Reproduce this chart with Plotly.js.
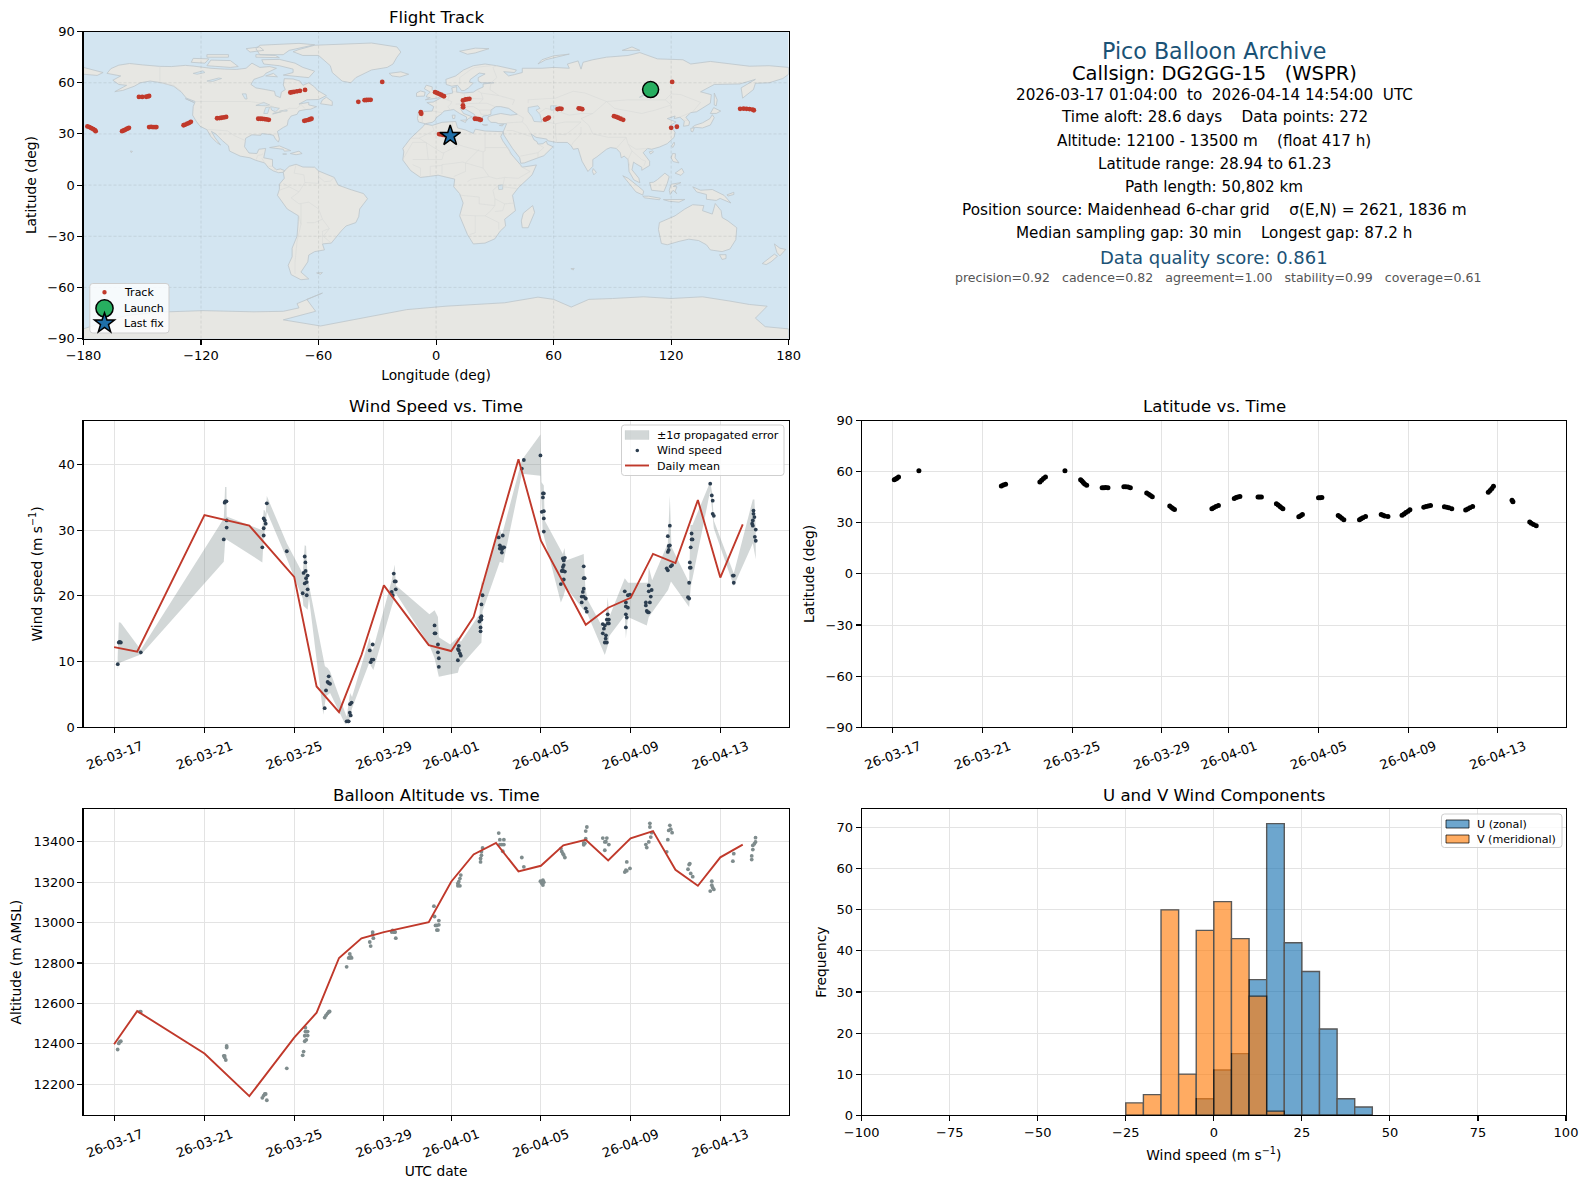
<!DOCTYPE html>
<html><head><meta charset="utf-8">
<script src="https://cdn.plot.ly/plotly-3.0.1.min.js"></script>
<style>html,body{margin:0;padding:0;background:#fff}</style>
</head><body><div id="chart" style="width:1590px;height:1189px"></div>
<script>
// ---------- map outlines (lon,lat pairs) ----------
const landNorthAmerica=[-168,65.5,-166,68.3,-162,70.3,-156.5,71.3,-150,70.5,-141,69.6,-135,69.5,-128,70.2,-124,69.8,-115,68.5,-108,68,-102,67.8,-97,68.5,-94,71.5,-90,69,-85,69.5,-81.5,68.5,-87,65.5,-88,64,-93,62,-94.5,59,-92,57,-87,56,-82.5,55,-82,52.5,-79.5,51.3,-79,54.5,-77,56,-78,58.7,-77.5,62.4,-73,62.2,-69.5,61,-68,58.5,-65,60,-62,57.5,-60.5,55.5,-56,52.5,-60,50.2,-66,50,-70,47.5,-65,48.5,-65,47,-61,46,-64,44.5,-66.5,44.3,-70,43.5,-71,41.5,-74,40.5,-75.5,38,-76,35,-78,33.8,-81,31.5,-80,27,-80.5,25.2,-82,27,-83,29.2,-85,29.7,-89,30.2,-89.5,29.2,-94,29.5,-97.2,27.5,-97.8,22.5,-95.5,18.8,-91.5,18.5,-90.5,21,-87,21.5,-88,16,-83.5,15,-83.5,11,-81.5,9,-79.5,9.5,-77.3,8.5,-78,7.5,-80.5,7.3,-83,8.3,-85.5,10,-87.5,13,-92,14.5,-95,16,-100,17,-105.5,20,-106,23,-109,26,-112.5,30,-114.7,31.5,-113,28,-110,23.5,-112,25,-115,28.5,-117,32.5,-120.5,34.5,-122.5,37.5,-124.3,41,-124,46,-123,49,-127.5,51,-130,54.5,-134,58,-140,60,-146,61,-151,60,-154,58,-160,55.5,-164,54.8,-158,58.5,-162,59,-165,61.5,-161,64];
const landGreenland=[-73,78.2,-68,76,-60,76,-54,70,-53,66,-48,61,-43.5,60,-41,63,-33,67.5,-25,69,-22,71,-20,75,-18,78,-20,81,-33,83.3,-50,82.5,-62,82,-70,79.5];
const landBaffin=[-80,73.7,-72,71.5,-68,69,-62,66.8,-65,63,-71,63.5,-78,64.5,-73,66,-73,68,-80,70,-88,71,-89,73.5];
const landVictoria=[-117,70,-105,69,-101,69.5,-105,73,-115,73.3];
const landEllesmere=[-90,76.5,-78,76.5,-75,79,-62,82.3,-70,83.1,-90,82,-92,80];
const landBanks=[-125,72,-118,71.5,-116,74,-124,74.3];
const landDevon=[-92,75,-80,74.7,-82,76,-92,76.5];
const landMelville=[-117,75,-106,75,-106,76.5,-117,76.5];
const landAxel=[-95,78,-88,79,-90,81,-97,80];
const landSouthampton=[-87,64,-81,63.5,-83,65.5];
const landNewfoundland=[-59,47.7,-53,46.7,-53,49,-56,51.5,-58,50];
const landVancouver=[-128,50.7,-123.5,48.4,-125,48.8];
const landCuba=[-85,22,-80,23,-74.2,20.2,-77.5,19.9,-78,21];
const landHispaniola=[-74.4,18.5,-70,19.9,-68.4,18.5,-71.5,17.8];
const landJamaica=[-78.3,18.2,-76.3,18.2,-76.8,17.8];
const landIceland=[-24,65.5,-18,66.4,-14,65,-18.5,63.4,-22.5,64];
const landIreland=[-10,52,-6,52.2,-5.6,54.5,-8,55.2,-10,54];
const landBritain=[-5.5,50,1.5,51.2,1.7,52.8,-1,54.5,-2,56,-2,57.6,-5,58.6,-6,56.5,-3,54.5,-4.5,53,-5,51.7,-3,51.3];
const landSvalbard=[12,78.5,20,80.3,27,80,20,77.5,16,76.7];
const landNovaya=[52,71,56,73.5,68,76.8,60,75.8,54,73.5];
const landSevernaya=[95,79,104,79,100,81];
const landSakhalin=[142,54,143.5,50,143,46.5,142,47,142,50];
const landHonshu=[130.9,34,136,33.5,140,35.2,142,39.5,141,41.3,139.8,39,136,36.5,132,35];
const landHokkaido=[140,42,141.7,45.4,145.3,43.4,143,42];
const landKyushu=[130,33.3,131.8,33.5,131,31.2,130.2,31.5];
const landTaiwan=[120.2,23,121.5,25.2,121.8,24,120.8,22];
const landHainan=[108.8,19.5,110.5,20,111,19.5,109.5,18.2];
const landSriLanka=[79.8,8,80.2,9.7,81.8,7.5,80.5,6];
const landLuzon=[120,16,120.7,18.5,122.2,18.4,122,16,124,13,121,13.8];
const landMindanao=[122,7,125.4,9.8,126.5,7.5,125,5.7];
const landBorneo=[109,1.5,111,1.7,113,3.2,116.8,7,119,5,118,1,116.3,-3.8,114,-3.5,110,-3];
const landSumatra=[95.3,5.5,98,4,103.5,-1,106,-3.5,105.5,-5.8,102,-4,98.5,1];
const landJava=[105.5,-6.5,108.5,-6.5,114.5,-7.7,114,-8.6,106.5,-7.5];
const landSulawesi=[119.5,-5.5,119,-3,120,0.5,125,1.5,121,-0.8,123,-1,122,-3.5,122.8,-5,121,-3];
const landTimor=[116,-8.5,119,-8.4,125,-8.5,127,-8.4,124,-10,119,-9.5];
const landNewGuinea=[131,-1,135,-3,141,-2.6,147,-6,150.5,-10.5,145,-7.8,143,-9,138,-8.3,138,-5.5,133,-4];
const landNewBritain=[148.5,-5.7,152,-4.2,152,-5.5,149,-6.4];
const landAustralia=[114,-22,113.5,-26,115,-34.2,118,-35,124,-33,129,-31.7,134,-32.5,138,-35,140,-38,146,-39,150,-37.5,153,-32,153.5,-25,149,-21,146,-19,145.5,-15,142.5,-10.8,141,-17,136,-15,136.7,-12,131,-11.5,127,-14,122,-18,117,-20.5];
const landTasmania=[144.7,-40.8,148,-40.8,148,-43,146,-43.6];
const landNZNorth=[172.7,-34.5,175.5,-37,178.5,-37.7,175.5,-41.5,174,-39.5];
const landNZSouth=[172.7,-40.5,174.3,-41.7,171,-45,168.5,-46.6,166.5,-46,170,-43];
const landMadagascar=[49.3,-12,50.3,-16,47,-25,44,-25,43.5,-21,44.5,-16.5];
const landAntarctica=[-180,-84.3,-165,-78.5,-158,-76.5,-142,-74.5,-119,-73.6,-93,-74.3,-78,-74,-70,-72,-71,-69.5,-58,-63.3,-66,-67,-61.5,-74,-78,-79,-59,-82.6,-45,-79.5,-30,-76,-15,-73,5,-71,25,-69.5,35,-69,52,-65.7,60,-67,69,-71.5,78,-67,90,-66.5,106,-65.5,120,-66.5,136,-65.5,150,-68,160,-70,169,-71,165,-76,163,-78,168,-83,180,-84.3,180,-90,-180,-90];
const landEurasia=[-5.5,36,-9,37,-9.5,39,-9,43,-2,43.4,-1.2,46,-4.7,48.4,-1.5,48.7,1.5,50.5,4,52,5.5,53.3,8.5,54,8,57,10.5,57.7,10.5,54.5,14,54,19,54.5,21,56,24,57.5,24,59.3,29.5,60,23,60,21.5,61,21.5,63,25,65.2,22,65.7,17.5,62,17,60.5,19,59.8,16.5,57,14.5,55.5,13,55.4,11,58.5,8,58,5.2,59,5,62,10,64,14,67.5,19,70,25,71,31,70,41,67.5,40,66,34.5,66.5,37,64,40,64.8,44,66,44,68.5,54,68.5,60,69,68,68.5,67,71,72.5,72.8,74,68,75,72,80,73.5,87,75,98,76,104,77.7,113,74,126,73.5,130,71,140,72.5,160,69.7,170,70,180,69,180,65,177,62.5,170,60,163,59.7,162,56,156.5,51,155.7,57,163,62,155,59.3,142,59,135,54.7,140.5,53,140,48,133,43,130,42.5,127.5,39.8,129.4,37,129,35,126.3,34.5,126.7,37.5,124.5,39.8,121.5,39,122,40.5,118,39,122.5,37,119.5,35,122,31,121.5,28,118,24.3,114,22.3,110,21,108,21.5,105.7,19,109,14,109,11.5,105,8.7,105,10.5,102,12.5,100.8,13.5,100,9,103.5,4,104,1.4,101,3,98.5,8,98,15,96,17,94.5,16,94,19,92,21.5,89,22,87,21,82,16.5,80,15,80,11,77.5,8,74.5,14,72.8,20,72.5,21.5,70,21,69,23,67,25,61.5,25,57,26,56.5,27,51,28,48.5,30,50,26.5,51.5,25.5,52,24,54.5,24.3,56.3,25.8,56.8,24,59.7,22.5,55,17.2,52,16,45,13,43.2,12.8,42.7,16,39,21.5,35,28,34.5,29.5,34.3,31.3,35,33,36,36,32,36,30.5,36.7,28,36.8,26.5,38.5,26.5,40,29,41,33,42,38,41,41.5,41.5,37,45,33,46,30.5,46,28,44,28,41.5,26,40.8,24,40.5,23,38,22.5,36.5,20.5,39,19.5,41.5,15,44.5,13.5,45.7,12.3,45,14,42,18.5,40,16.5,39,15.7,38,15.5,40,12,42,9,44.3,4,43.4,3,42,0,39.5,-0.5,38,-2,36.8];
const landChukotka=[-180,69,-175,67.5,-170,66,-173,64.3,-180,65];
const landAfrica=[-5.8,35.8,-2,35,3,36.8,10,37.3,11,33.5,15,32.3,19,30.3,20,32.8,25,31.7,32,31.2,34.3,31.3,33,28.5,34,26,37,21,38.5,18,43,12,44,10.5,51.2,11.8,49,6,42,-1.5,39,-6,40.5,-15,35,-20,35.5,-24,32.7,-27,30,-31.5,25,-34,19,-34.5,16,-29,12,-18,13.8,-10.5,12,-5,9,-1,9.5,3.5,5.5,4.5,1,5.8,-4,5,-8,4.5,-13,8.5,-17,14.7,-16.5,19.5,-17,21.5,-13,27.5,-9.5,31,-6.5,34.5];
const landSouthAmerica=[-77.3,8.5,-75,11,-71.5,12.2,-68,10.6,-62,10.5,-60,8.3,-52,4.5,-50,0,-44,-2.5,-37,-5,-35,-8,-39,-14,-39.5,-18.5,-41,-22,-46,-24,-48.5,-27,-53.5,-34,-58,-34.5,-57,-38,-62,-39,-65,-41,-65.5,-45,-69,-51,-65,-55,-69,-55.5,-74,-52.5,-75.5,-47,-73.5,-42,-73.5,-37,-71,-30,-70.5,-23,-70.3,-18,-76,-14,-81,-6,-80,-2.5,-80,0.5,-77.5,4,-78,7.5];
const landFalklands=[-61,-51.5,-58,-51.3,-59,-52.3];
const landKerguelen=[68.8,-49,70.5,-48.8,70,-49.8];
const landSicily=[12.5,38,15.5,38.2,15,36.7];
const landSardinia=[8.2,41,9.7,41,9.5,39.1,8.5,39];
const landCrete=[23.6,35.5,26.3,35.3,24.8,34.9];
const landCyprus=[32.3,35,34.5,35.6,33.8,34.7];
const landHawaii=[-156,20,-155,19.8,-155.6,19];
const lakeCaspian=[47,45.5,52,46.5,53,45,51,44,53,41.5,54,37,50,37.3,49,40,47,43];
const lakeSuperior=[-92,46.7,-88,48.5,-85,47,-87,46.5];
const lakeMichigan=[-88,42,-86,42,-85,45.8,-87,45.5];
const lakeHuron=[-84.5,46,-80,45,-82,43,-84,44];
const lakeErie=[-83.5,41.6,-79,42.6,-79,43,-83,42.2];
const lakeOntario=[-80,43.3,-76,43.4,-76.3,44.2,-79.5,43.8];
const lakeWinnipeg=[-99,53.5,-97,53.5,-96.5,50.5,-97.5,50.5];
const lakeSlave=[-117,61,-111,62.8,-109.5,62.5,-114,60.8];
const lakeBear=[-124,65.5,-119,67,-118,66,-122,65];
const lakeVictoria=[31.7,-0.2,34,0.2,34,-2.4,32,-2.6];
const lakeBaikal=[103.8,51.5,105,51.8,110,55.8,109,55.6];
const lakeAral=[58.5,46.5,61.5,46.5,60,44,58.5,44];
const borderLines=[
[-141,69.6,-141,60,-134,58.5,-130,55],[-123,49,-95,49,-89,48,-83,46,-82,43,-79,43,-75,45,-71,45,-69,47.3,-67,45],
[-117,32.5,-114.7,32.5,-106.5,31.8,-103,29,-97.2,26],[-92,14.5,-91,17.5,-89,17.8,-88.3,18.5],[-89,15.8,-87.5,13],[-85.5,11,-83.5,11],[-83,8.3,-82.5,9.5],
[-71.5,12,-72.5,7,-67.5,6,-67,1.5],[-60,8,-60,5,-57,2,-54,2.3,-52,4.5],[-60,5,-60,1,-67,1.5,-70,-4,-74,-7.5,-70,-11,-65,-10,-60,-14,-58,-20,-54.5,-25.5,-57.6,-30,-53.5,-34],
[-70,-18,-69,-23,-71,-33,-72,-45,-72,-52],[-69,-11,-69,-16,-69,-23],[-58,-20,-62,-22,-66,-22],[-80,-3,-75,-1,-70,-4],[-78,1,-75,-1],[-58,-27,-54.5,-25.5],[-58,-27,-58,-34],
[-8.7,27.5,-13,27.5],[-8.7,27.5,3,19,4,19,12,23.5,14,22.7,24,19.5,25,20,25,31.7],[25,22,36.8,22],[-5,25,-12,25,-16.5,16],[-5,25,-4,15,3,15,4,19],[12,23.5,9.5,30,8,33,8.5,37],[-2,35,-1,32,-8.7,27.5],[24,19.5,24,10,27,5,31,3.7,35,4.5,42,4,48,8,43,11],[36.8,22,38,18],[24,10,15,13,13.5,13.5,9,12.8,3,12,3,6.5],[15,13,15,8,9,5],[16,2,18,3.5,24,4.5,27,5],[12,-5,13,-6,22,-7,22,-11,30,-12,30,-8,29,-3,31,-1,34,-1,41,-2],[34,-1,35,4.5],[30,-12,28,-15,25,-18,20,-18,12,-17.5],[20,-18,20,-28,17,-29],[25,-18,32,-22,32,-26],[35,-11,40,-10.5],[30,-8,35,-11,34,-15,30,-15.5],[-12,15,-4,15],[-8,5,-8,10,-12,12],[-3,5,-3,11,3,11.5],[15,13,22,21],
[28,60,27.5,56,32,52.5,40,50,39,47],[47,48,47,50,61,51,70,55,76,54,87,49,98,50,107,50,117,50,120,53.5,125,53,135,48.5,131,43],[28,60,31,63,29,69,31,70],[12,59,12,63,18,68,20,69,28,70],[87,49,91,45,105,42,112,44,120,47,117,50],[87,49,80,42,74,39,78,35,80,30,88,28,97,28,98,24,102,21,108,21.5],[74,34,74,30,70,25,69,23],[61.5,25,61,30,61,36,54,37.5],[61,30,66,29.5,70,33,74,37,66,37,61,36],[52,42,56,45,60,44,68,41,74,42,80,42],[36,36.5,44,37,44.5,39.5,41.5,41.5],[44,37,46,35,48.5,30],[36,32,39,32,47,29,48.5,28.5],[43,17,52,19,55,22,52,24],[52,16,52,19],[92,21.5,94,24,97,28],[98,24,100,20,98,15,99,11],[100,20,102,18,105,15,107,14,106,11],[124.5,40,130,42.5],[126,38,128.5,38],
[3,51,6,50,8,49,7.5,47.5,6,46,7.5,44],[-1.8,43.4,3,42.5],[-9,42,-7,42,-7,37],[7,53.3,6,50],[8.5,54.9,14,54],[14,54,15,51,24,50.5,23,54,21,55.5],[10,47.5,17,48,22,48,26,48,30,46],[24,50.5,22,48],[22,44,29,44],[13.5,46,19,46,22,44,23,41.5,26,41.5],[23,54,32,52.5]];
// ---------- flight track ----------
const trackLon=[-178,-177,-176,-175,-174.2,-173.8,-160.3,-159.5,-158.8,-158,-157.2,-156.8,-146.5,-145.5,-144.5,-143.5,-142.8,-151.7,-150,-148,-147,-146.5,-128.9,-128,-127,-126,-125.2,-111.8,-110.5,-109.5,-108.3,-107.2,-90.8,-89.5,-88.5,-87.5,-86.5,-85.4,-74.4,-73.5,-72.5,-71,-69.5,-66.9,-67.3,-66.3,-65.2,-64.3,-63.6,-39.7,-36.5,-35.5,-34.4,-33.4,-27.5,-0.5,0.5,1.5,2.5,3.2,4,-7.8,-7.6,13.7,15,16,17,13.7,13.8,19.8,20.8,21.8,22.8,1.5,2.5,3.5,4.5,55.6,56.3,57,57.5,62,63,64,72.8,73.7,74.6,90.8,92,93,94.2,95.5,120.5,120,122.9,155.2,157,158.5,160,161.5,162.2];
const trackLat=[34.4,34,33.4,32.8,32.2,31.6,31.6,32,32.4,32.9,33.3,33.6,34,34.1,34,34,34,51.7,51.7,51.8,52,52.3,35.1,35.5,36,36.5,37.1,39.2,39.3,39.5,39.7,40,38.9,38.9,38.8,38.7,38.5,38.3,54.3,54.5,54.7,55,55.3,55.8,37.7,38,38.3,38.6,38.9,48.8,49.8,49.9,50,50,60.5,54.5,54,53.5,53,52.5,52.1,42.7,41.8,49.6,50.2,50.4,50.6,46.8,45.6,38.9,38.8,38.6,38.3,29.9,29.7,29.5,29.3,38.4,38.8,39.2,39.6,44.6,44.8,44.7,45,44.8,44.5,40.4,40,39.5,38.9,38.3,60.5,33.6,34.2,44.7,44.8,44.7,44.6,44.3,43.9];
const launchLon=[109.5], launchLat=[56];
const lastLon=[7.2], lastLat=[28.9];
// ---------- wind speed (days after 2026-03-17 00:00 UTC, m/s) ----------
const windDay=[.134,.18,.22,.27,1.16,4.86,4.9,4.93,4.98,4.99,4.99,6.58,6.64,6.64,6.64,6.69,6.73,6.78,7.67,8.38,8.42,8.47,8.47,8.5,8.51,8.53,8.56,8.6,8.6,8.56,9.36,9.42,9.49,9.54,9.55,9.6,10.34,10.4,10.43,10.48,10.52,10.49,10.56,11.37,11.41,11.46,11.5,11.53,12.35,12.39,12.44,12.48,12.53,12.53,14.26,14.26,14.3,14.41,14.41,14.45,14.45,15.3,15.3,15.34,15.34,15.39,15.43,16.26,16.31,16.35,16.35,16.31,16.31,16.35,16.4,17.12,17.3,17.17,17.17,17.21,17.26,17.26,17.3,17.36,18.15,18.24,18.98,19.09,19.09,19.13,19.04,19.13,19.13,19.13,19.89,19.93,19.98,20.02,20.02,19.98,20.07,20.07,19.96,20.02,20.0,20.91,20.91,20.95,20.91,20.87,20.82,20.91,21,20.82,21,21.05,21.76,21.85,21.81,21.76,21.9,21.85,21.94,21.89,21.98,21.94,22.03,22.03,21.98,22.74,22.79,22.79,22.88,22.79,22.83,22.79,22.88,22.97,23.68,23.68,23.72,23.77,23.81,23.86,23.9,23.81,23.81,23.94,24.61,24.66,24.66,24.7,24.7,24.75,24.66,24.75,24.79,24.85,25.56,25.61,25.61,25.64,25.68,25.64,25.68,25.72,25.76,25.72,26.55,26.62,26.66,26.66,26.71,27.56,27.6,27.6,28.42,28.45,28.48,28.48,28.52,28.45,28.58,28.54,28.58];
const windSpeed=[9.6,12.9,13,12.9,11.4,28.6,34.2,34.4,34.4,31.5,30.4,27.4,29.2,30.3,31.8,31.5,31,34.1,26.8,20.4,23.5,26,21.9,25.1,23.8,22.7,22.1,23.1,21,20.1,2.9,5.6,6.9,7.75,6.7,6.6,0.9,0.9,0.9,2.2,1.8,3.5,3.75,11.7,9.9,10.3,12.6,10.3,20.6,20.1,23.4,22.2,22.2,21,15.5,14.3,14.3,12.6,11.4,10.5,9.2,10.2,11.9,12.4,11.7,11.25,10.9,16.1,16.7,16.9,16.4,15.2,14.6,18.7,20.1,28.9,29.2,27.7,27.2,27.4,27.1,26.6,27.4,27.4,39.4,40.7,41.4,35.6,35,35.6,32.8,32.9,31.8,29.8,21.8,23.8,24.4,24.7,25.4,25.7,25.8,23.7,23.8,22.5,23.8,24.5,22.7,22.7,21.1,20.6,19.9,19.9,19.6,19,18.1,17.6,15.7,15.5,15,14.3,14,12.9,12.9,13.5,17.2,16.4,16.4,15.8,15.8,20.7,19,18.4,18.2,17.2,16.7,15.2,20.1,20.2,19,18.55,17.7,17.5,17.5,19,19.9,21.6,20.7,20.9,24.2,23.9,26.7,27,27.6,27.7,29.1,30.7,24.5,24.7,19.8,19.6,22,24.3,24.3,25.1,27.4,28.6,28.6,29.5,37.1,35.3,34.5,32.5,32.2,23.1,23.1,22,31,30.7,33,32.5,32,31.5,30.1,29,28.4];
const bandUpDay=[.13,.18,.27,1.1,1.16,4.86,4.92,4.98,4.99,6.58,6.64,6.69,6.73,6.78,7.67,8.38,8.47,8.53,8.6,9.37,9.42,9.49,9.6,10.34,10.49,10.58,11.37,11.46,11.53,12.35,12.48,12.54,14.03,14.26,14.41,14.45,14.96,15.3,15.43,16.26,16.35,16.4,17.12,17.26,18.15,18.98,19.03,19.13,19.17,19.98,20.05,20.12,20.91,20.98,21.08,21.85,21.98,22.05,22.74,22.89,23.77,23.81,23.96,24.66,24.75,24.82,25.61,25.67,25.76,26.55,26.64,26.71,27.6,28.45,28.52,28.58];
const bandUp=[10.5,16,15.9,12.2,11.8,31.8,36.6,36.6,32.1,30,33.1,33,32.5,35.2,28.0,23.4,27.7,27.6,22.7,9.3,9.2,9.0,8.5,1.6,5.2,4.6,13.7,11.7,12,22.4,24.8,21.6,17.2,17.8,16.8,13.7,12.6,13.7,13.0,17.2,22.4,21.1,30.7,29.2,40.7,44.6,37.3,36.8,31.5,26.4,27.3,25.4,26.4,21.4,19.4,14.6,19.8,16.8,22.7,22,22,24.4,22.4,28,35.3,27.5,22,30.8,30.8,37.4,35.6,31.5,23.4,34.7,34.7,30];
const bandLoDay=[.13,.18,.27,1.1,1.16,4.86,4.93,6.58,6.64,6.73,6.78,7.67,8.38,8.41,8.6,8.66,9.3,9.42,9.6,10.28,10.49,10.58,11.37,11.41,11.53,12.35,12.53,14.03,14.26,14.45,15.3,15.36,16.35,16.4,17.17,17.32,18.15,18.98,19.08,19.89,20.01,20.12,20.91,21.08,21.85,21.98,22.05,22.74,22.79,22.88,23.72,23.81,24.67,24.8,25.61,25.68,26.55,26.71,27.6,28.45,28.58];
const bandLo=[8.8,9.6,9.9,11,11,25.2,28.7,25.1,28.9,30.7,32.8,25.7,19.6,18.5,17.9,19.7,1.9,4.7,5.2,0.4,1.4,2.9,10,9.4,8.7,18.4,20.4,12.5,10.5,7.7,8.3,9.1,12.9,17.7,25.2,25,38.6,38.3,29.8,19,20,21.3,17.8,17.2,11,12.4,13.9,17,13.5,16.8,15.5,16.8,20.9,22.2,18.3,21.3,36,30.3,21.5,28,25.6];
const dailyDay=[-.03,1,4,6,8,9,10,11,12,13,14,15,16,17,18,19,20,21,22,23,24,25,26,27,28];
const dailyWind=[12.2,11.5,32.3,30.7,22.9,6.2,2.3,11,21.6,17.1,12.5,11.6,16.8,28.9,40.8,28.4,22.1,15.6,18.2,19.7,26.4,25,34.6,22.8,30.9];
const dailyAlt=[12398,12562,12352,12141,12431,12554,12825,12922,12953,12977,13002,13202,13337,13394,13253,13281,13382,13410,13307,13417,13453,13261,13182,13323,13386];
// ---------- altitude ----------
const altDay=[.13,.18,.22,.27,1.12,1.16,4.86,4.9,4.9,4.95,4.99,4.99,6.58,6.64,6.69,6.73,6.78,7.67,8.38,8.42,8.47,8.54,8.5,8.5,8.54,8.6,8.6,8.47,9.36,9.42,9.49,9.55,9.58,10.34,10.43,10.48,10.48,10.52,10.56,11.37,11.41,11.5,11.5,11.53,12.35,12.39,12.44,12.48,12.5,12.53,14.23,14.26,14.3,14.36,14.36,14.41,14.45,14.45,15.3,15.3,15.39,15.43,15.39,15.34,16.31,16.31,16.35,16.4,16.35,17.12,17.17,17.35,17.17,17.26,17.35,17.3,18.15,18.24,18.98,19.09,19.09,19.04,19.13,19.89,19.93,19.98,20.02,20.07,20.91,20.91,20.96,21,21,21.05,21.76,21.94,21.85,21.9,22.03,21.85,22.83,22.79,22.74,22.97,22.83,23.68,23.72,23.81,23.86,23.86,23.9,23.94,24.61,24.66,24.7,24.75,24.79,24.85,25.56,25.61,25.64,25.68,25.77,26.55,26.62,26.62,26.66,26.71,27.56,27.6,28.4,28.4,28.45,28.45,28.52,28.57,28.57];
const altitude=[12372,12402,12410,12413,12559,12559,12341,12341,12333,12320,12390,12382,12133,12144,12152,12152,12121,12279,12343,12362,12413,12420,12480,12461,12461,12461,12441,12440,12530,12541,12551,12559,12560,12781,12825,12845,12825,12830,12825,12904,12884,12953,12940,12923,12953,12961,12953,12953,12953,12923,13081,13030,12986,12986,12963,12963,13010,12989,13194,13182,13182,13235,13218,13202,13300,13317,13350,13369,13333,13443,13410,13410,13386,13386,13386,13353,13322,13276,13205,13210,13186,13195,13200,13366,13352,13341,13335,13322,13394,13385,13392,13415,13453,13473,13418,13418,13399,13400,13386,13358,13300,13259,13250,13268,13256,13386,13371,13399,13491,13473,13423,13445,13350,13410,13456,13481,13462,13445,13264,13287,13292,13243,13227,13156,13205,13185,13173,13164,13304,13341,13312,13330,13361,13382,13390,13420,13399];
// ---------- latitude vs time ----------
const latDay=[.06,.12,.18,.25,1.16,4.84,4.93,5.03,6.56,6.64,6.72,6.81,7.68,8.38,8.44,8.5,8.56,8.65,9.34,9.42,9.5,9.6,10.31,10.4,10.5,10.6,11.33,11.42,11.5,11.58,12.36,12.44,12.5,12.57,14.24,14.32,14.42,14.53,15.24,15.32,15.4,15.49,16.3,16.37,16.45,17.12,17.2,17.28,17.34,17.41,18.12,18.2,18.28,19,19.07,19.15,19.88,19.96,20.04,20.13,20.83,20.9,20.98,21.1,21.8,21.88,21.96,22.1,22.73,22.82,22.9,23,23.08,23.7,23.8,23.9,24,24.62,24.72,24.82,24.95,25.57,25.66,25.76,25.88,26.58,26.66,26.74,26.81,27.64,27.68,28.43,28.5,28.6,28.72];
const latValue=[55.3,55.7,56.2,56.9,60.6,51.6,52.2,52.7,53.9,55,56,56.9,60.6,55.3,54.5,53.6,52.8,52,50.6,50.6,50.7,50.6,51.2,51.2,51,50.6,47.5,46.8,46,45.3,39.8,39,38.4,37.8,38.2,38.8,39.5,40.2,44.3,44.8,45.2,45.5,45.1,45.2,45.1,41.2,40.4,39.6,38.9,38.2,33.5,34.2,34.9,44.7,44.7,44.8,34.3,33.5,32.6,31.8,31.8,32.4,33,33.7,34.9,34.5,34,33.7,34.5,35.2,36,36.8,37.6,39.2,39.6,39.9,40.2,39.4,39.2,38.8,38.2,37.5,38.1,38.8,39.6,48,49,50.2,51.4,43.2,42.4,30.4,29.8,29,28.2];
// ---------- histogram ----------
const histCentres=[-22.5,-17.5,-12.5,-7.5,-2.5,2.5,7.5,12.5,17.5,22.5,27.5,32.5,37.5,42.5];
const histU=[0,0,0,0,4,11,15,33,71,42,35,21,4,2];
const histV=[3,5,50,10,45,52,43,29,1,0,0,0,0,0];
// ---------- ticks and labels ----------
const dateTicks=['2026-03-17','2026-03-21','2026-03-25','2026-03-29','2026-04-01','2026-04-05','2026-04-09','2026-04-13'];
const dateRange=['2026-03-15 14:33','2026-04-16 01:11'];
const lonTicks=[-180,-120,-60,0,60,120,180];
const latTicks=[-90,-60,-30,0,30,60,90];
const infoLines=[
 ['Pico Balloon Archive',50.8,22.2,'#1a5276',1214.25],
 ['Callsign: DG2GG-15   (WSPR)',73,19.5,'#000',1214.25],
 ['2026-03-17 01:04:00  to  2026-04-14 14:54:00  UTC',95.5,15.2,'#000',1214.25],
 ['Time aloft: 28.6 days    Data points: 272',117.5,15.2,'#000',1214.25],
 ['Altitude: 12100 - 13500 m    (float 417 h)',141,15.2,'#000',1214.25],
 ['Latitude range: 28.94 to 61.23',164,15.2,'#000',1214.25],
 ['Path length: 50,802 km',187,15.2,'#000',1214.25],
 ['Position source: Maidenhead 6-char grid    σ(E,N) = 2621, 1836 m',210,15.3,'#000',1214],
 ['Median sampling gap: 30 min    Longest gap: 87.2 h',233,15.2,'#000',1214.25],
 ['Data quality score: 0.861',257,18,'#1a5276',1214.25],
 ['precision=0.92   cadence=0.82   agreement=1.00   stability=0.99   coverage=0.61',277.5,12.55,'#555555',1218]];
const panelTitles=[['Flight Track',436.25,17.5],['Wind Speed vs. Time',436.25,406.5],['Latitude vs. Time',1214.25,406.5],['Balloon Altitude vs. Time',436.25,795.5],['U and V Wind Components',1214.25,795.5]];
const legendTrack=[['Track',292.3],['Launch',308.3],['Last fix',323.3]];
const legendWind=[['±1σ propagated error',435],['Wind speed',450.5],['Daily mean',466]];
const legendHist=[['U (zonal)',824],['V (meridional)',839.2]];

// ---------- helpers ----------
const W=1590,H=1189,FONT='"DejaVu Sans", sans-serif';
const T0=Date.UTC(2026,2,17);
const toDate=a=>a.map(d=>T0+d*864e5);
function joinRings(rings,close){const x=[],y=[];rings.forEach(r=>{for(let i=0;i<r.length;i+=2){x.push(r[i]);y.push(r[i+1]);}if(close){x.push(r[0]);y.push(r[1]);}x.push(null);y.push(null);});return{x,y};}
const land=joinRings([landNorthAmerica,landGreenland,landBaffin,landVictoria,landEllesmere,landBanks,landDevon,landMelville,landAxel,landSouthampton,landNewfoundland,landVancouver,landCuba,landHispaniola,landJamaica,landIceland,landIreland,landBritain,landSvalbard,landNovaya,landSevernaya,landSakhalin,landHonshu,landHokkaido,landKyushu,landTaiwan,landHainan,landSriLanka,landLuzon,landMindanao,landBorneo,landSumatra,landJava,landSulawesi,landTimor,landNewGuinea,landNewBritain,landAustralia,landTasmania,landNZNorth,landNZSouth,landMadagascar,landAntarctica,landEurasia,landChukotka,landAfrica,landSouthAmerica,landFalklands,landKerguelen,landSicily,landSardinia,landCrete,landCyprus,landHawaii],true);
const lakes=joinRings([lakeCaspian,lakeSuperior,lakeMichigan,lakeHuron,lakeErie,lakeOntario,lakeWinnipeg,lakeSlave,lakeBear,lakeVictoria,lakeBaikal,lakeAral],true);
const borders=joinRings(borderLines,false);
const LX0=83.5,LX1=788.7,RX0=861.7,RX1=1566;
const dom=(a,b)=>[a/W,b/W], domY=(t,b)=>[1-b/H,1-t/H];
const COAST='#bcc5ca',RED='#c0392b',STEEL='#2c3e50',GREY='#7f8c8d',OCEAN='#d3e5f1';
const base={showline:true,mirror:true,linecolor:'#000',linewidth:1.1,ticks:'outside',ticklen:5,tickwidth:1.1,tickcolor:'#000',gridcolor:'#e3e3e3',gridwidth:1,zeroline:false,tickfont:{size:13,color:'#000',family:FONT},layer:'above traces'};
const axT=(t,stand)=>({text:t,font:{size:13.8,color:'#000',family:FONT},standoff:stand});
const dateAxis=(d,anchor,extra)=>Object.assign({},base,{domain:d,anchor,type:'date',range:dateRange,tickmode:'array',tickvals:dateTicks,tickformat:'%y-%m-%d',tickangle:-20,ticklabelshift:27,ticklabelstandoff:1},extra||{});

const traces=[
 {x:land.x,y:land.y,xaxis:'x',yaxis:'y',mode:'lines',fill:'toself',fillcolor:'#e7e7e3',line:{color:COAST,width:0.8},hoverinfo:'skip',showlegend:false},
 {x:lakes.x,y:lakes.y,xaxis:'x',yaxis:'y',mode:'lines',fill:'toself',fillcolor:OCEAN,line:{color:COAST,width:0.7},hoverinfo:'skip',showlegend:false},
 {x:borders.x,y:borders.y,xaxis:'x',yaxis:'y',mode:'lines',line:{color:'#d9dad8',width:0.6},hoverinfo:'skip',showlegend:false}];
lonTicks.slice(1,-1).forEach(v=>traces.push({x:[v,v],y:[-90,90],xaxis:'x',yaxis:'y',mode:'lines',line:{color:'rgba(120,125,130,0.22)',width:0.8,dash:'3px,2px'},hoverinfo:'skip',showlegend:false}));
latTicks.slice(1,-1).forEach(v=>traces.push({x:[-180,180],y:[v,v],xaxis:'x',yaxis:'y',mode:'lines',line:{color:'rgba(120,125,130,0.22)',width:0.8,dash:'3px,2px'},hoverinfo:'skip',showlegend:false}));
traces.push(
 {x:trackLon,y:trackLat,xaxis:'x',yaxis:'y',mode:'markers',name:'Track',marker:{color:RED,size:4.8},hoverinfo:'skip'},
 {x:launchLon,y:launchLat,xaxis:'x',yaxis:'y',mode:'markers',name:'Launch',marker:{color:'#27ae60',size:16,line:{color:'#000',width:1.5}},hoverinfo:'skip'},
 {x:lastLon,y:lastLat,xaxis:'x',yaxis:'y',mode:'markers',name:'Last fix',marker:{color:'#1f6fa8',size:15.5,symbol:'star',line:{color:'#000',width:1.5}},hoverinfo:'skip'},
 {x:toDate(bandUpDay).concat(toDate(bandLoDay).reverse()),y:bandUp.concat(bandLo.slice().reverse()),xaxis:'x2',yaxis:'y2',mode:'lines',fill:'toself',fillcolor:'rgba(127,140,141,0.35)',line:{width:0},name:'±1σ propagated error',hoverinfo:'skip'},
 {x:toDate(windDay),y:windSpeed,xaxis:'x2',yaxis:'y2',mode:'markers',name:'Wind speed',marker:{color:STEEL,size:3.8},hoverinfo:'skip'},
 {x:toDate(dailyDay),y:dailyWind,xaxis:'x2',yaxis:'y2',mode:'lines',name:'Daily mean',line:{color:RED,width:1.9},hoverinfo:'skip'},
 {x:toDate(latDay),y:latValue,xaxis:'x3',yaxis:'y3',mode:'markers',marker:{color:'#000',size:5},hoverinfo:'skip'},
 {x:toDate(altDay),y:altitude,xaxis:'x4',yaxis:'y4',mode:'markers',marker:{color:GREY,size:3.8},hoverinfo:'skip'},
 {x:toDate(dailyDay),y:dailyAlt,xaxis:'x4',yaxis:'y4',mode:'lines',line:{color:RED,width:1.9},hoverinfo:'skip'},
 {type:'bar',x:histCentres,y:histU,width:5,xaxis:'x5',yaxis:'y5',name:'U (zonal)',opacity:0.65,marker:{color:'#1f77b4',line:{color:'#000',width:1.4}},hoverinfo:'skip'},
 {type:'bar',x:histCentres,y:histV,width:5,xaxis:'x5',yaxis:'y5',name:'V (meridional)',opacity:0.65,marker:{color:'#ff7f0e',line:{color:'#000',width:1.4}},hoverinfo:'skip'}
);
const annotations=[];
const px=x=>x/W, py=y=>1-y/H;
panelTitles.forEach(p=>annotations.push({text:p[0],x:px(p[1]),y:py(p[2]),xref:'paper',yref:'paper',xanchor:'center',yanchor:'middle',showarrow:false,font:{size:16.6,color:'#000',family:FONT}}));
infoLines.forEach(l=>annotations.push({text:l[0],x:px(l[4]),y:py(l[1]),xref:'paper',yref:'paper',xanchor:'center',yanchor:'middle',showarrow:false,font:{size:l[2],color:l[3],family:FONT}}));
function legendText(rows,left,size){rows.forEach(r=>annotations.push({text:r[0],x:px(left),y:py(r[1]),xref:'paper',yref:'paper',xanchor:'left',yanchor:'middle',showarrow:false,font:{size,color:'#000',family:FONT}}));}
legendText(legendTrack,122.2,11); legendText(legendWind,655.3,11.1); legendText(legendHist,1475.2,11.1);
// legend frames and keys, placed in figure coordinates
function roundBox(x0,y0,x1,y1,r){const P=(x,y)=>px(x)+','+py(y);return 'M'+P(x0+r,y0)+' L'+P(x1-r,y0)+' Q'+P(x1,y0)+' '+P(x1,y0+r)+' L'+P(x1,y1-r)+' Q'+P(x1,y1)+' '+P(x1-r,y1)+' L'+P(x0+r,y1)+' Q'+P(x0,y1)+' '+P(x0,y1-r)+' L'+P(x0,y0+r)+' Q'+P(x0,y0)+' '+P(x0+r,y0)+' Z';}
function star(cx,cy,R){let s='';for(let i=0;i<10;i++){const r=i%2?R*0.4:R,a=-Math.PI/2+i*Math.PI/5;s+=(i?'L':'M')+px(cx+r*Math.cos(a))+','+py(cy+r*Math.sin(a))+' ';}return s+'Z';}
const frame=(x0,y0,x1,y1)=>({type:'path',xref:'paper',yref:'paper',path:roundBox(x0,y0,x1,y1,3),fillcolor:'rgba(255,255,255,0.8)',line:{color:'#cfcfcf',width:1},layer:'above'});
const disc=(cx,cy,r,col,lw)=>({type:'circle',xref:'paper',yref:'paper',x0:px(cx-r),x1:px(cx+r),y0:py(cy+r),y1:py(cy-r),fillcolor:col,line:{color:'#000',width:lw},layer:'above'});
const swatch=(x0,y0,x1,y1,col,lc)=>({type:'rect',xref:'paper',yref:'paper',x0:px(x0),x1:px(x1),y0:py(y1),y1:py(y0),fillcolor:col,line:{color:lc,width:1},layer:'above'});
const shapes=[
 {type:'rect',xref:'x',yref:'y',x0:-180,x1:180,y0:-90,y1:90,fillcolor:OCEAN,line:{width:0},layer:'below'},
 frame(89.8,283.5,169,333),
 disc(104.5,292.3,2.2,RED,0),disc(104.5,308.3,8.6,'#27ae60',1.5),
 {type:'path',xref:'paper',yref:'paper',path:star(104.5,323.3,10.5),fillcolor:'#1f6fa8',line:{color:'#000',width:1.5},layer:'above'},
 frame(621.5,425,784,475.5),
 swatch(625,430.5,649,439.5,'rgba(127,140,141,0.35)','rgba(127,140,141,0.1)'),
 disc(637.3,450.5,1.8,STEEL,0),
 {type:'line',xref:'paper',yref:'paper',x0:px(625),x1:px(649),y0:py(465.5),y1:py(465.5),line:{color:RED,width:1.9},layer:'above'},
 frame(1441.5,814,1562,847.5),
 swatch(1446,820,1469,828,'rgba(31,119,180,0.65)','rgba(0,0,0,0.7)'),
 swatch(1446,835,1469,843,'rgba(255,127,14,0.65)','rgba(0,0,0,0.7)')
];
const layout={width:W,height:H,margin:{l:0,r:0,t:0,b:0},paper_bgcolor:'#fff',plot_bgcolor:'#fff',font:{family:FONT,color:'#000'},barmode:'overlay',annotations,shapes,hovermode:false,showlegend:false,
 xaxis:Object.assign({},base,{domain:dom(LX0,LX1),anchor:'y',range:[-180,180],tickvals:lonTicks,showgrid:false,title:axT('Longitude (deg)',8)}),
 yaxis:Object.assign({},base,{domain:domY(31.6,338.6),anchor:'x',range:[-90,90],tickvals:latTicks,showgrid:false,title:axT('Latitude (deg)',7)}),
 xaxis2:dateAxis(dom(LX0,LX1),'y2'),
 yaxis2:Object.assign({},base,{domain:domY(420.6,727.2),anchor:'x2',range:[0,46.7],tickvals:[0,10,20,30,40],title:axT('Wind speed (m s<sup>−1</sup>)',12)}),
 xaxis3:dateAxis(dom(RX0,RX1),'y3'),
 yaxis3:Object.assign({},base,{domain:domY(420.6,727.2),anchor:'x3',range:[-90,90],tickvals:latTicks,title:axT('Latitude (deg)',7)}),
 xaxis4:dateAxis(dom(LX0,LX1),'y4',{title:axT('UTC date',6)}),
 yaxis4:Object.assign({},base,{domain:domY(809,1115.2),anchor:'x4',range:[12047,13562],tickvals:[12200,12400,12600,12800,13000,13200,13400],tickformat:'d',title:axT('Altitude (m AMSL)',8)}),
 xaxis5:Object.assign({},base,{domain:dom(RX0,RX1),anchor:'y5',range:[-100,100],tickvals:[-100,-75,-50,-25,0,25,50,75,100],title:axT('Wind speed (m s<sup>−1</sup>)',11)}),
 yaxis5:Object.assign({},base,{domain:domY(809,1115.2),anchor:'x5',range:[0,74.55],tickvals:[0,10,20,30,40,50,60,70],title:axT('Frequency',6)})
};
Plotly.newPlot('chart',traces,layout,{displayModeBar:false,staticPlot:true});
</script></body></html>
